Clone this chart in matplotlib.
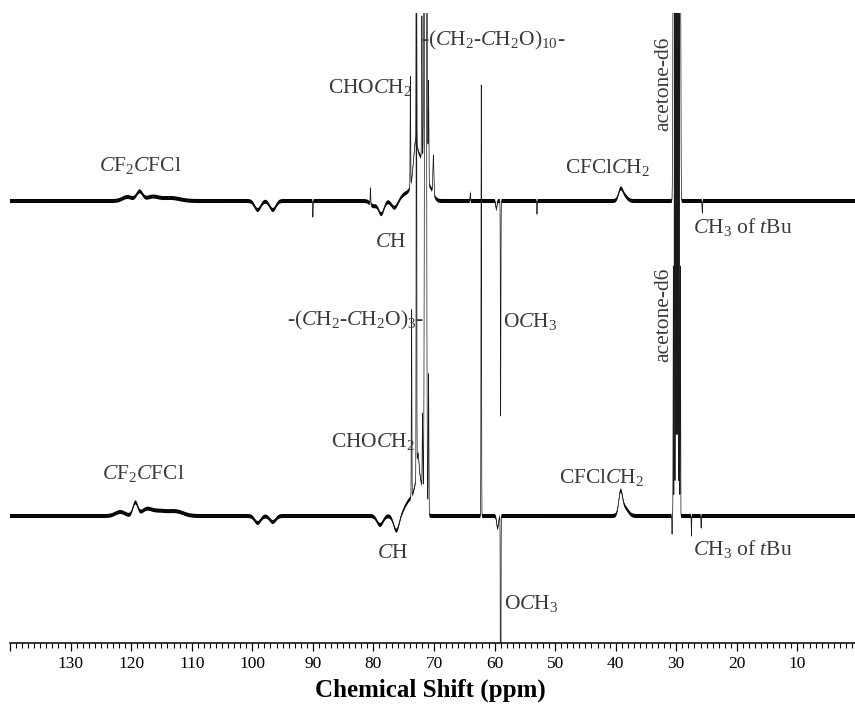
import numpy as np
import matplotlib
matplotlib.use("Agg")
import matplotlib.pyplot as plt
from matplotlib.ticker import MultipleLocator, FixedLocator, FixedFormatter

plt.rcParams["font.family"] = ["Liberation Serif", "DejaVu Serif"]
plt.rcParams["mathtext.fontset"] = "custom"
plt.rcParams["mathtext.rm"] = "Liberation Serif"
plt.rcParams["mathtext.it"] = "Liberation Serif:italic"
plt.rcParams["mathtext.bf"] = "Liberation Serif:bold"

# ---- peak tables (shift in ppm, signed intensity, gaussian width in ppm) ----
# upper spectrum
top_ppm = [120.6, 118.6, 116.5, 113.5, 99.1, 96.6, 90.0, 80.5, 80.0, 78.7, 76.5,
           74.8, 73.1, 72.4, 70.5,
           73.9, 72.9, 72.0, 71.4, 70.9, 70.1, 64.0, 59.7, 59.0, 53.0,
           39.2, 38.6, 25.7]
top_int = [4, 9, 4, 3, -9, -9, -16, 16, -5, -13, -7,
           6, 25, 45, 8,
           110, 400, 144, 1500, 101, 38, 8, -8, -215, -13,
           10, 5, -12]
top_wid = [0.8, 0.5, 1.0, 1.5, 0.5, 0.5, 0.04, 0.04, 0.5, 0.45, 0.5,
           0.7, 0.3, 0.9, 0.5,
           0.04, 0.04, 0.05, 0.14, 0.05, 0.08, 0.04, 0.1, 0.04, 0.04,
           0.35, 0.5, 0.04]

# lower spectrum
bot_ppm = [121.8, 119.3, 117.5, 115.5, 112.5, 99.1, 96.6, 78.9, 76.2,
           74.0, 72.65, 72.5,
           73.7, 72.9, 71.9, 71.4, 70.9, 62.2, 59.5, 59.0,
           39.2, 38.6, 30.7, 27.5, 25.9]
bot_int = [4, 13, 5, 5, 4, -7, -6, -9, -15,
           15, 20, 40,
           187, 700, 78, 1200, 141, 431, -12, -400,
           20, 9, -18, -20, -12]
bot_wid = [0.8, 0.4, 0.8, 1.5, 1.2, 0.5, 0.5, 0.5, 0.45,
           0.8, 0.15, 0.6,
           0.04, 0.04, 0.05, 0.12, 0.05, 0.04, 0.15, 0.04,
           0.3, 0.6, 0.03, 0.03, 0.03]

# acetone-d6 septet (CD3)
acetone_ppm = [30.49, 30.30, 30.10, 29.91, 29.72, 29.52, 29.33]
acetone_top = [300, 900, 1800, 2100, 1800, 900, 300]
acetone_bot = [250, 750, 1500, 1750, 1500, 750, 250]

top_offset = 315          # vertical stacking of the upper trace

ticks_major = [140, 130, 120, 110, 100, 90, 80, 70, 60, 50, 40, 30, 20, 10, 0]
tick_labels = ["", "130", "120", "110", "100", "90", "80", "70", "60", "50",
               "40", "30", "20", "10", ""]


def spectrum(shift, ppm, inten, wid):
    y = np.zeros_like(shift)
    for p, h, w in zip(ppm, inten, wid):
        y += h * np.exp(-0.5 * ((shift - p) / w) ** 2)
    return y


shift = np.linspace(140.5, 0.0, 28101)
y_top = spectrum(shift, top_ppm + acetone_ppm, top_int + acetone_top,
                 top_wid + [0.07] * 7) + top_offset
y_bot = spectrum(shift, bot_ppm + acetone_ppm, bot_int + acetone_bot,
                 bot_wid + [0.035] * 7)

W, H = 855, 707
fig = plt.figure(figsize=(W / 100, H / 100), dpi=100)
ax = fig.add_axes([10 / W, (H - 643) / H, 848 / W, 630 / H])

for y in (y_bot, y_top):
    ax.fill_between(shift, y - 2.0, y + 2.0, color="black", lw=0)
    ax.plot(shift, y, color="#1a1a1a", lw=0.5)

ax.set_xlim(140, 0)
ax.set_ylim(-127, 503)

for s in ("left", "right", "top"):
    ax.spines[s].set_visible(False)
ax.spines["bottom"].set_linewidth(1.1)
ax.set_yticks([])
ax.xaxis.set_major_locator(FixedLocator(ticks_major))
ax.xaxis.set_major_formatter(FixedFormatter(tick_labels))
ax.xaxis.set_minor_locator(MultipleLocator(1))
ax.tick_params(axis="x", which="major", length=6, width=0.9, pad=3,
               labelsize=12.5, direction="out")
ax.tick_params(axis="x", which="minor", length=3.5, width=0.8, direction="out")


def label(x, y, s, size=15.5, **kw):
    fig.text(x / W, 1 - y / H, s, ha="center", va="center", fontsize=size,
             **kw)


label(430, 690, "Chemical Shift (ppm)", size=18, fontweight="bold",
      color="black")

# upper trace annotations
grey = "#3a3a3a"
label(140, 165, r"$\it{C}$F$_2$$\it{C}$FCl", color=grey)
label(370, 87, r"CHO$\it{C}$H$_2$", color=grey)
label(493, 40, r"-($\it{C}$H$_2$-$\it{C}$H$_2$O)$_{10}$-", color=grey)
label(391, 242, r"$\it{C}$H", color=grey)
label(608, 167, r"CFCl$\it{C}$H$_2$", color=grey)
label(664, 84, "acetone-d6", rotation=90, color=grey)
label(743, 227, r"$\it{C}$H$_3$ of $\it{t}$Bu", color=grey)
label(530, 321, r"O$\it{C}$H$_3$", color=grey)

# lower trace annotations
label(355, 320, r"-($\it{C}$H$_2$-$\it{C}$H$_2$O)$_3$-", color=grey)
label(373, 441, r"CHO$\it{C}$H$_2$", color=grey)
label(143, 474, r"$\it{C}$F$_2$$\it{C}$FCl", color=grey)
label(393, 553, r"$\it{C}$H", color=grey)
label(602, 477, r"CFCl$\it{C}$H$_2$", color=grey)
label(664, 315, "acetone-d6", rotation=90, color=grey)
label(743, 549, r"$\it{C}$H$_3$ of $\it{t}$Bu", color=grey)
label(531, 603, r"O$\it{C}$H$_3$", color=grey)

fig.savefig("out.png", dpi=100)
